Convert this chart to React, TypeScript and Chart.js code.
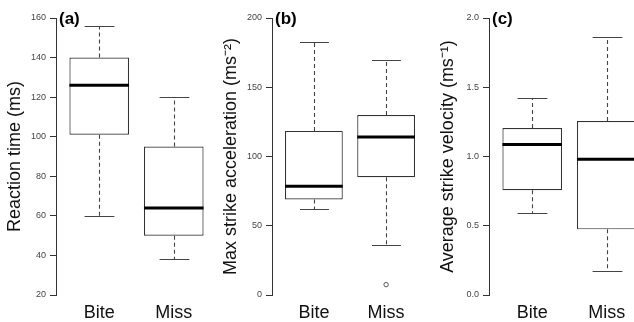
import React, { useEffect, useRef } from 'react';
import { Chart, registerables } from 'chart.js';

Chart.register(...registerables);

const FONT = '"Liberation Sans", Arial, Helvetica, sans-serif';

const categories = ['Bite', 'Miss'];
const categoryPositions = [1, 2];

// five-number summaries: [lower whisker, Q1, median, Q3, upper whisker]
const reactionBite = [60, 101, 126, 140, 156];
const reactionMiss = [38, 50, 64, 95, 120];
const reactionTicks = [20, 40, 60, 80, 100, 120, 140, 160];

const accelBite = [62, 69, 78.5, 118.5, 183];
const accelMiss = [36, 85, 114, 130, 170];
const accelMissOutliers = [7.5];
const accelTicks = [0, 50, 100, 150, 200];

const velocityBite = [0.59, 0.757, 1.087, 1.206, 1.423];
const velocityMiss = [0.172, 0.474, 0.981, 1.256, 1.862];
const velocityTicks = [0, 0.5, 1.0, 1.5, 2.0];

type PanelProps = {
  left: number;
  tag: string;
  title: string;
  summaries: number[][];
  outliers: { x: number; y: number }[];
  ticks: number[];
  decimals: number;
};

const AXIS_W = 52;
const CANVAS_W = AXIS_W + 161;

function makeBoxPlugin(summaries: number[][], tag: string) {
  return {
    id: 'boxparts',
    beforeDatasetsDraw(chart: any) {
      const ctx = chart.ctx;
      const xs = chart.scales.x;
      const ys = chart.scales.y;
      const bars = chart.getDatasetMeta(0).data;
      ctx.save();
      summaries.forEach((s, i) => {
        const cx = Math.round(xs.getPixelForValue(categoryPositions[i])) + 0.5;
        const w = bars[i] ? bars[i].width : 60;
        ctx.strokeStyle = '#444';
        ctx.lineWidth = 1.1;
        ctx.setLineDash([4, 3]);
        ctx.beginPath();
        ctx.moveTo(cx, ys.getPixelForValue(s[3]));
        ctx.lineTo(cx, ys.getPixelForValue(s[4]));
        ctx.moveTo(cx, ys.getPixelForValue(s[1]));
        ctx.lineTo(cx, ys.getPixelForValue(s[0]));
        ctx.stroke();
        ctx.setLineDash([]);
        ctx.beginPath();
        [s[0], s[4]].forEach((v) => {
          const py = Math.round(ys.getPixelForValue(v)) + 0.5;
          ctx.moveTo(cx - w / 4, py);
          ctx.lineTo(cx + w / 4, py);
        });
        ctx.stroke();
      });
      ctx.restore();
    },
    afterDatasetsDraw(chart: any) {
      const ctx = chart.ctx;
      const xs = chart.scales.x;
      const ys = chart.scales.y;
      const bars = chart.getDatasetMeta(0).data;
      ctx.save();
      summaries.forEach((s, i) => {
        const cx = xs.getPixelForValue(categoryPositions[i]);
        const w = bars[i] ? bars[i].width : 60;
        const py = ys.getPixelForValue(s[2]);
        ctx.strokeStyle = '#000';
        ctx.lineWidth = 3;
        ctx.beginPath();
        ctx.moveTo(cx - w / 2, py);
        ctx.lineTo(cx + w / 2, py);
        ctx.stroke();
      });
      ctx.fillStyle = '#000';
      ctx.font = `bold 17px ${FONT}`;
      ctx.textBaseline = 'middle';
      ctx.textAlign = 'left';
      ctx.fillText(tag, chart.chartArea.left + 3, 19);
      ctx.restore();
    },
  };
}

function Panel({ left, tag, title, summaries, outliers, ticks, decimals }: PanelProps) {
  const ref = useRef<HTMLCanvasElement | null>(null);
  useEffect(() => {
    if (!ref.current) return;
    const chart = new Chart(ref.current, {
      type: 'bar',
      data: {
        datasets: [
          {
            type: 'bar',
            data: summaries.map((s, i) => ({ x: categoryPositions[i], y: [s[1], s[3]] })) as any,
            backgroundColor: '#ffffff',
            borderColor: '#333333',
            borderWidth: 1.2,
            borderSkipped: false,
            barPercentage: 0.8,
            categoryPercentage: 1,
          } as any,
          {
            type: 'scatter',
            data: outliers as any,
            pointRadius: 2.2,
            pointBorderWidth: 1,
            pointBorderColor: '#555555',
            pointBackgroundColor: '#ffffff',
          } as any,
        ],
      },
      options: {
        responsive: false,
        animation: false,
        layout: { padding: { top: 18, right: 0, left: 0, bottom: 0 } },
        plugins: { legend: { display: false }, tooltip: { enabled: false } },
        scales: {
          x: {
            type: 'linear',
            offset: false,
            min: 0.42,
            max: 2.58,
            grid: { display: false, offset: false, drawTicks: false },
            border: { display: false },
            afterBuildTicks: (s: any) => {
              s.ticks = categoryPositions.map((v) => ({ value: v }));
            },
            afterFit: (s: any) => {
              s.height = 27;
            },
            ticks: {
              autoSkip: false,
              maxRotation: 0,
              padding: 7,
              color: '#111',
              font: { family: FONT, size: 18 },
              callback: (v: any) => categories[categoryPositions.indexOf(Number(v))],
            },
          },
          y: {
            type: 'linear',
            min: ticks[0],
            max: ticks[ticks.length - 1],
            afterBuildTicks: (s: any) => {
              s.ticks = ticks.map((v) => ({ value: v }));
            },
            afterFit: (s: any) => {
              s.width = AXIS_W;
            },
            grid: { drawOnChartArea: false, drawTicks: true, tickLength: 6, color: '#333' },
            border: { display: true, color: '#333', width: 1 },
            ticks: {
              padding: 4,
              color: '#444',
              font: { family: FONT, size: 9 },
              callback: (v: any) => Number(v).toFixed(decimals),
            },
            title: {
              display: true,
              text: title,
              color: '#111',
              font: { family: FONT, size: 18 },
              padding: 0,
            },
          },
        },
      } as any,
      plugins: [makeBoxPlugin(summaries, tag)],
    });
    return () => chart.destroy();
  }, []);
  return (
    <canvas
      ref={ref}
      width={CANVAS_W}
      height={322}
      style={{ position: 'absolute', left, top: 0, width: CANVAS_W, height: 322 }}
    />
  );
}

export default function App() {
  return (
    <div
      style={{
        position: 'absolute',
        left: 0,
        top: 0,
        width: 634,
        height: 322,
        overflow: 'hidden',
        background: '#fff',
      }}
    >
      <Panel
        left={56 - AXIS_W}
        tag="(a)"
        title="Reaction time (ms)"
        summaries={[reactionBite, reactionMiss]}
        outliers={[]}
        ticks={reactionTicks}
        decimals={0}
      />
      <Panel
        left={272 - AXIS_W}
        tag="(b)"
        title="Max strike acceleration (ms⁻²)"
        summaries={[accelBite, accelMiss]}
        outliers={accelMissOutliers.map((y) => ({ x: categoryPositions[1], y }))}
        ticks={accelTicks}
        decimals={0}
      />
      <Panel
        left={489 - AXIS_W}
        tag="(c)"
        title="Average strike velocity (ms⁻¹)"
        summaries={[velocityBite, velocityMiss]}
        outliers={[]}
        ticks={velocityTicks}
        decimals={1}
      />
    </div>
  );
}
